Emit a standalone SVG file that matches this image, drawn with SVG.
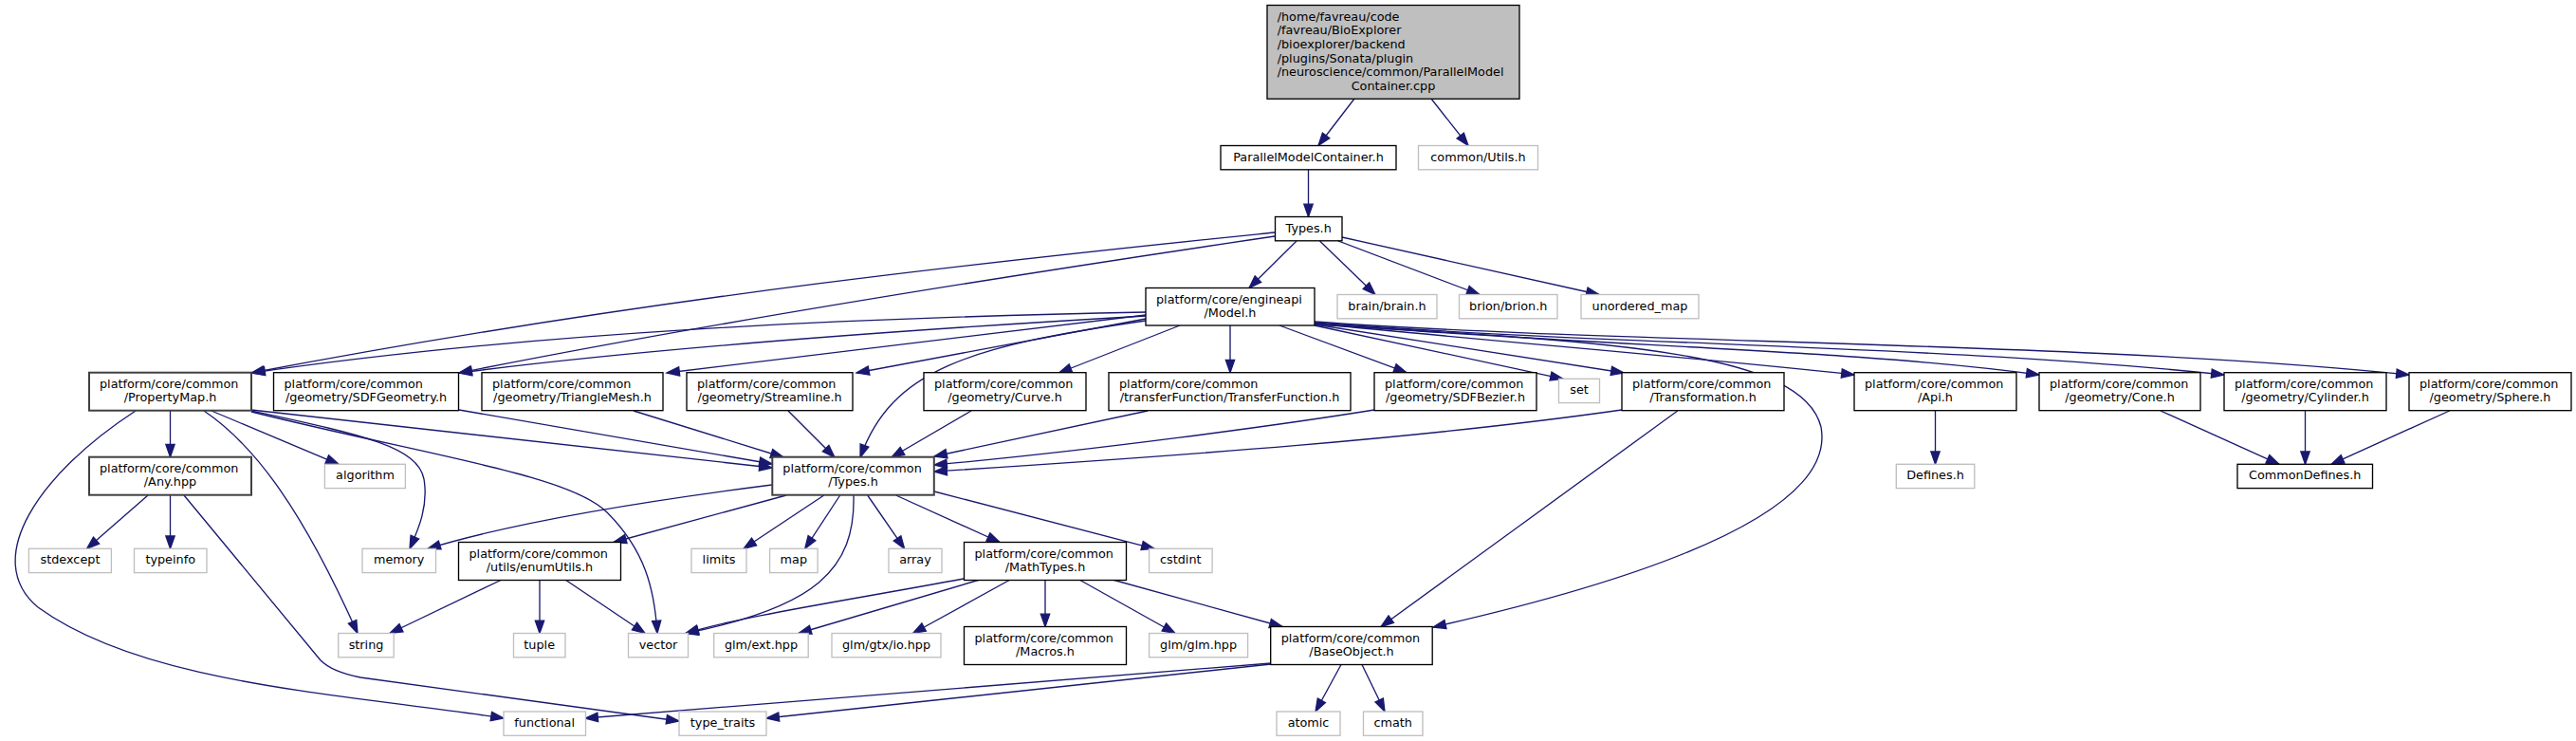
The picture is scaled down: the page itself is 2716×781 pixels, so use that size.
<svg xmlns="http://www.w3.org/2000/svg" width="2716" height="781" viewBox="0 0 2716 781">
<style>
rect{fill:#fff;stroke:#000;stroke-width:1.33}
.g rect{stroke:#bfbfbf}
.k rect{stroke:#404040;stroke-width:2}
.r rect{fill:#bfbfbf}
text{font-family:"DejaVu Sans",sans-serif;font-size:12.8px;fill:#000}
.s{text-anchor:start}
.m{text-anchor:middle}
.e path{fill:none;stroke:#191970;stroke-width:1.33;marker-end:url(#ah)}
</style>
<defs>
<marker id="ah" markerUnits="userSpaceOnUse" markerWidth="16" markerHeight="12" refX="13.3" refY="4.65" orient="auto" overflow="visible">
<path d="M0,0 L13.3,4.65 L0,9.3 z" fill="#191970" stroke="#191970" stroke-width="1.33"/>
</marker>
</defs>
<rect x="0" y="0" width="2716" height="781" style="fill:#fff;stroke:none"/>
<g id="edges" class="e">
<path d="M1428,104 L1390,153.5"/>
<path d="M1509,104 L1548,153.5"/>
<path d="M1379.5,179 L1379.5,228.5"/>
<path d="M1367,254 L1317,303.5"/>
<path d="M1391.5,254 L1450,310.5"/>
<path d="M1411,254 L1560,310.5"/>
<path d="M1415,250 L1686,310.5"/>
<path d="M1344,245 C1100,270 700,310 265,393"/>
<path d="M1344,249 C1100,285 750,340 484,393"/>
<path d="M1208,329 C900,335 560,350 266,393"/>
<path d="M1208,333 C1000,345 700,365 484,393"/>
<path d="M1208,332 L703,393"/>
<path d="M1208,336 L903,393"/>
<path d="M1208,338 C1020,365 940,390 907,482"/>
<path d="M1244,343 L1116.5,393"/>
<path d="M1297,343 L1297,392.7"/>
<path d="M1349,343 L1483,392.7"/>
<path d="M1386,343 L1648,399.3"/>
<path d="M1386,342 L1712,393"/>
<path d="M1386,341 C1600,362 1800,378 1955,395"/>
<path d="M1386,341 C1700,366 1950,368 2150,395"/>
<path d="M1386,340 C1700,364 2050,364 2345,395"/>
<path d="M1386,339 C1700,362 2200,360 2540,395"/>
<path d="M1386,342 C1700,360 1900,370 1920,450 C1935,530 1780,600 1511,661"/>
<path d="M1768.75,433 L1456,660.5"/>
<path d="M1710,432 C1500,462 1250,480 985,497"/>
<path d="M1449,432 C1350,448 1150,475 985,490"/>
<path d="M1210,433 L985,481"/>
<path d="M1024,433 L940,482"/>
<path d="M831,433 L880,482"/>
<path d="M668,433 L826,482"/>
<path d="M484,432 L814,489"/>
<path d="M265,432 L814,493"/>
<path d="M179.5,432.7 L179.5,481.7"/>
<path d="M223,433 L357,489.3"/>
<path d="M215,433 C270,470 320,540 377,667.5"/>
<path d="M265,433 C380,458 440,470 447,505 C452,535 440,560 432,578.3"/>
<path d="M265,434 C450,480 600,500 640,540 C680,580 690,620 693,667.5"/>
<path d="M143,433 C40,500 -20,590 40,640 C150,720 350,730 531,757"/>
<path d="M156,522 L91.5,578.3"/>
<path d="M179.5,522 L179.5,578.3"/>
<path d="M194,522 L338,696 Q350,708 380,714 L716,760"/>
<path d="M814,511 C720,523 560,545 451,578.3"/>
<path d="M829,522 L647,571.5"/>
<path d="M900,522 C902,600 860,640 723,667.5"/>
<path d="M868.75,522 L784,578.3"/>
<path d="M885.7,522 L848.7,578.3"/>
<path d="M914.7,522 L953.6,578.3"/>
<path d="M944.6,522 L1054,571.5"/>
<path d="M985,518 L1217,578.3"/>
<path d="M529,611 L411,667.5"/>
<path d="M569,611 L569,667.5"/>
<path d="M596,611 L680,667.5"/>
<path d="M1016,610 C880,635 780,650 723,667.5"/>
<path d="M1033,611 L842,667.5"/>
<path d="M1065,611 L962.5,667.5"/>
<path d="M1102,611 L1102,660.5"/>
<path d="M1138,611 L1239,667.5"/>
<path d="M1173,611 L1352,660.5"/>
<path d="M1414,700.5 L1387,750"/>
<path d="M1436,700.5 L1460,750"/>
<path d="M1340,699 L617,757"/>
<path d="M1340,700 L808,757"/>
<path d="M2040.5,433 L2040.5,489.3"/>
<path d="M2278,433 L2403,489.3"/>
<path d="M2430.5,433 L2430.5,489.3"/>
<path d="M2582.6,433 L2458,489.3"/>
</g>
<g id="main" class="r"><rect x="1336" y="5.5" width="266" height="98.7"/>
<text class="s" x="1346.7" y="21.5">/home/favreau/code</text>
<text class="s" x="1346.7" y="36.2">/favreau/BioExplorer</text>
<text class="s" x="1346.7" y="50.8">/bioexplorer/backend</text>
<text class="s" x="1346.7" y="65.5">/plugins/Sonata/plugin</text>
<text class="s" x="1346.7" y="80.2">/neuroscience/common/ParallelModel</text>
<text class="m" x="1469" y="94.8">Container.cpp</text></g>
<g id="pmc"><rect x="1287" y="153.5" width="185" height="25.3"/><text class="m" x="1379.5" y="169.5">ParallelModelContainer.h</text></g>
<g id="utils" class="g"><rect x="1495.5" y="153.5" width="126" height="25.3"/><text class="m" x="1558.5" y="169.5">common/Utils.h</text></g>
<g id="types"><rect x="1344.5" y="228.5" width="70.5" height="25.3"/><text class="m" x="1379.7" y="244.5">Types.h</text></g>
<g id="model"><rect x="1208" y="303.5" width="178" height="39.5"/><text class="s" x="1219" y="319.5">platform/core/engineapi</text><text class="m" x="1297" y="334.2">/Model.h</text></g>
<g id="brain" class="g"><rect x="1410" y="310.5" width="105" height="25.3"/><text class="m" x="1462.5" y="326.5">brain/brain.h</text></g>
<g id="brion" class="g"><rect x="1538.5" y="310.5" width="103.5" height="25.3"/><text class="m" x="1590.2" y="326.5">brion/brion.h</text></g>
<g id="umap" class="g"><rect x="1667" y="310.5" width="124" height="25.3"/><text class="m" x="1729" y="326.5">unordered_map</text></g>
<g id="propmap" class="k"><rect x="94" y="392.7" width="171" height="40"/><text class="s" x="105" y="408.7">platform/core/common</text><text class="m" x="179.5" y="423.4">/PropertyMap.h</text></g>
<g id="sdfgeom"><rect x="288.5" y="392.7" width="195" height="40"/><text class="s" x="299.5" y="408.7">platform/core/common</text><text class="m" x="386" y="423.4">/geometry/SDFGeometry.h</text></g>
<g id="trimesh"><rect x="508" y="392.7" width="191" height="40"/><text class="s" x="519" y="408.7">platform/core/common</text><text class="m" x="603.5" y="423.4">/geometry/TriangleMesh.h</text></g>
<g id="streamline"><rect x="724" y="392.7" width="175" height="40"/><text class="s" x="735" y="408.7">platform/core/common</text><text class="m" x="811.5" y="423.4">/geometry/Streamline.h</text></g>
<g id="curve"><rect x="974" y="392.7" width="171" height="40"/><text class="s" x="985" y="408.7">platform/core/common</text><text class="m" x="1059.5" y="423.4">/geometry/Curve.h</text></g>
<g id="tf"><rect x="1169" y="392.7" width="255" height="40"/><text class="s" x="1180" y="408.7">platform/core/common</text><text class="m" x="1296.5" y="423.4">/transferFunction/TransferFunction.h</text></g>
<g id="sdfbezier"><rect x="1449" y="392.7" width="171" height="40"/><text class="s" x="1460" y="408.7">platform/core/common</text><text class="m" x="1534.5" y="423.4">/geometry/SDFBezier.h</text></g>
<g id="set" class="g"><rect x="1643.5" y="399.3" width="43" height="25.3"/><text class="m" x="1665" y="415.3">set</text></g>
<g id="transformation"><rect x="1710" y="392.7" width="171" height="40"/><text class="s" x="1721" y="408.7">platform/core/common</text><text class="m" x="1795.5" y="423.4">/Transformation.h</text></g>
<g id="api"><rect x="1955" y="392.7" width="171" height="40"/><text class="s" x="1966" y="408.7">platform/core/common</text><text class="m" x="2040.5" y="423.4">/Api.h</text></g>
<g id="cone"><rect x="2150" y="392.7" width="170" height="40"/><text class="s" x="2161" y="408.7">platform/core/common</text><text class="m" x="2235" y="423.4">/geometry/Cone.h</text></g>
<g id="cylinder"><rect x="2345" y="392.7" width="171" height="40"/><text class="s" x="2356" y="408.7">platform/core/common</text><text class="m" x="2430.5" y="423.4">/geometry/Cylinder.h</text></g>
<g id="sphere"><rect x="2540" y="392.7" width="171" height="40"/><text class="s" x="2551" y="408.7">platform/core/common</text><text class="m" x="2625.5" y="423.4">/geometry/Sphere.h</text></g>
<g id="anyhpp" class="k"><rect x="94" y="481.7" width="171" height="40"/><text class="s" x="105" y="497.7">platform/core/common</text><text class="m" x="179.5" y="512.4">/Any.hpp</text></g>
<g id="algorithm" class="g"><rect x="342.4" y="489.3" width="85" height="25.3"/><text class="m" x="385" y="505.3">algorithm</text></g>
<g id="ctypes" class="k"><rect x="814.3" y="481.7" width="170.5" height="40"/><text class="s" x="825.3" y="497.7">platform/core/common</text><text class="m" x="899.5" y="512.4">/Types.h</text></g>
<g id="defines" class="g"><rect x="1999.3" y="489.3" width="82.5" height="25.3"/><text class="m" x="2040.5" y="505.3">Defines.h</text></g>
<g id="commondefines"><rect x="2359" y="489.3" width="142.5" height="25.3"/><text class="m" x="2430.2" y="505.3">CommonDefines.h</text></g>
<g id="stdexcept" class="g"><rect x="30.4" y="578.3" width="87" height="25.3"/><text class="m" x="74" y="594.3">stdexcept</text></g>
<g id="typeinfo" class="g"><rect x="141.5" y="578.3" width="76.5" height="25.3"/><text class="m" x="179.7" y="594.3">typeinfo</text></g>
<g id="memory" class="g"><rect x="382" y="578.3" width="77.5" height="25.3"/><text class="m" x="420.7" y="594.3">memory</text></g>
<g id="enumutils"><rect x="483.5" y="571.5" width="171" height="40"/><text class="s" x="494.5" y="587.5">platform/core/common</text><text class="m" x="569" y="602.2">/utils/enumUtils.h</text></g>
<g id="limits" class="g"><rect x="729" y="578.3" width="58" height="25.3"/><text class="m" x="758" y="594.3">limits</text></g>
<g id="map" class="g"><rect x="811.6" y="578.3" width="50.5" height="25.3"/><text class="m" x="836.8" y="594.3">map</text></g>
<g id="array" class="g"><rect x="937" y="578.3" width="56" height="25.3"/><text class="m" x="965" y="594.3">array</text></g>
<g id="mathtypes"><rect x="1016.5" y="571.5" width="171" height="40"/><text class="s" x="1027.5" y="587.5">platform/core/common</text><text class="m" x="1102" y="602.2">/MathTypes.h</text></g>
<g id="cstdint" class="g"><rect x="1211.6" y="578.3" width="66.5" height="25.3"/><text class="m" x="1244.8" y="594.3">cstdint</text></g>
<g id="string" class="g"><rect x="356.7" y="667.5" width="58.5" height="25.3"/><text class="m" x="386" y="683.5">string</text></g>
<g id="tuple" class="g"><rect x="541.5" y="667.5" width="54.5" height="25.3"/><text class="m" x="568.7" y="683.5">tuple</text></g>
<g id="vector" class="g"><rect x="662.5" y="667.5" width="63" height="25.3"/><text class="m" x="694" y="683.5">vector</text></g>
<g id="glmext" class="g"><rect x="752.7" y="667.5" width="99.5" height="25.3"/><text class="m" x="802.5" y="683.5">glm/ext.hpp</text></g>
<g id="gtxio" class="g"><rect x="877" y="667.5" width="115" height="25.3"/><text class="m" x="934.5" y="683.5">glm/gtx/io.hpp</text></g>
<g id="macros"><rect x="1016.5" y="660.5" width="171" height="40"/><text class="s" x="1027.5" y="676.5">platform/core/common</text><text class="m" x="1102" y="691.2">/Macros.h</text></g>
<g id="glmglm" class="g"><rect x="1211.6" y="667.5" width="104" height="25.3"/><text class="m" x="1263.6" y="683.5">glm/glm.hpp</text></g>
<g id="baseobject"><rect x="1339.7" y="660.5" width="170.5" height="40"/><text class="s" x="1350.7" y="676.5">platform/core/common</text><text class="m" x="1425" y="691.2">/BaseObject.h</text></g>
<g id="functional" class="g"><rect x="531" y="750" width="86.5" height="25.3"/><text class="m" x="574.2" y="766">functional</text></g>
<g id="typetraits" class="g"><rect x="716" y="750" width="92" height="25.3"/><text class="m" x="762" y="766">type_traits</text></g>
<g id="atomic" class="g"><rect x="1346" y="750" width="67" height="25.3"/><text class="m" x="1379.5" y="766">atomic</text></g>
<g id="cmath" class="g"><rect x="1437.5" y="750" width="62.5" height="25.3"/><text class="m" x="1468.7" y="766">cmath</text></g>
</svg>
